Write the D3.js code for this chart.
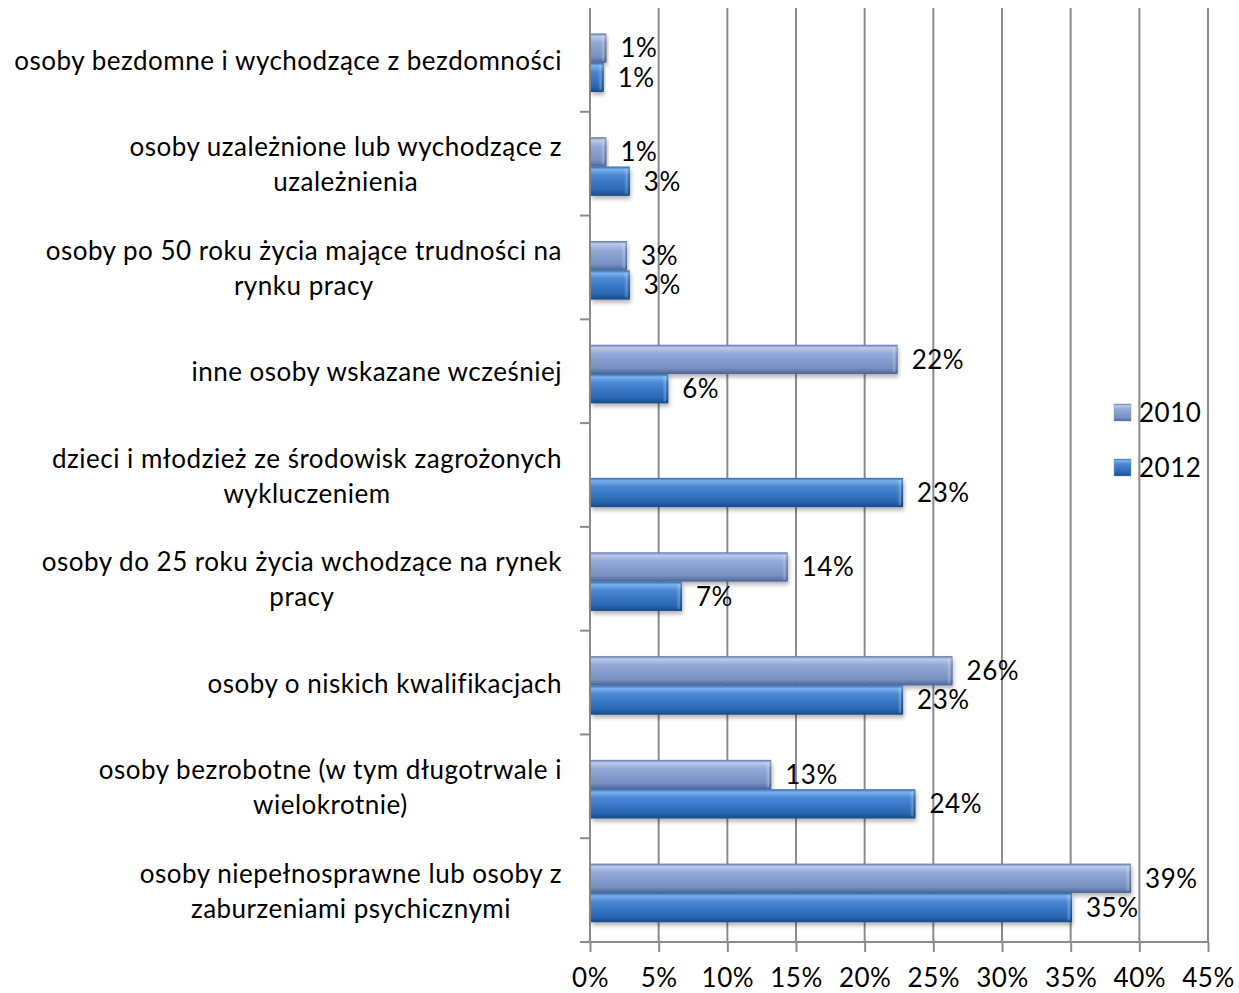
<!DOCTYPE html>
<html>
<head>
<meta charset="utf-8">
<script src="https://cdn.jsdelivr.net/npm/d3@7"></script>
<style>
  body { margin: 0; background: #fff; }
  svg { display: block; font-family: Lato, "Noto Sans", sans-serif; }
</style>
</head>
<body>
<div id="chart"></div>
<script>
const categories = [
  "osoby bezdomne i wychodzące z bezdomności",
  "osoby uzależnione lub wychodzące z|uzależnienia",
  "osoby po 50 roku życia mające trudności na|rynku pracy",
  "inne osoby wskazane wcześniej",
  "dzieci i młodzież ze środowisk zagrożonych|wykluczeniem",
  "osoby do 25 roku życia wchodzące na rynek|pracy",
  "osoby o niskich kwalifikacjach",
  "osoby bezrobotne (w tym długotrwale i|wielokrotnie)",
  "osoby niepełnosprawne lub osoby z|zaburzeniami psychicznymi"
]
const series = ["2010", "2012"]
const values2010 = [1.2, 1.2, 2.7, 22.4, null, 14.4, 26.4, 13.2, 39.4]
const values2012 = [1.0, 2.9, 2.9, 5.7, 22.8, 6.7, 22.8, 23.7, 35.1]
const xTicks = [0, 5, 10, 15, 20, 25, 30, 35, 40, 45]

const chartWidth = 1239
const chartHeight = 993
const plotLeft = 590, plotRight = 1208, plotTop = 8, plotBottom = 942

const svg = d3.select("#chart").append("svg")
  .attr("width", chartWidth)
  .attr("height", chartHeight)

// gradients for the bevelled bars
const defs = svg.append("defs")
const gradStops = {
  "2010": [["0%", "#5d74a6"], ["10%", "#bccbea"], ["30%", "#94a9d7"], ["80%", "#7690c2"], ["100%", "#4c6494"]],
  "2012": [["0%", "#2c66ae"], ["10%", "#7ab2ee"], ["30%", "#4987d4"], ["80%", "#2a67b3"], ["100%", "#1a4a88"]]
}
series.forEach(s => {
  const g = defs.append("linearGradient").attr("id", "grad" + s)
    .attr("x1", 0).attr("y1", 0).attr("x2", 0).attr("y2", 1)
  gradStops[s].forEach(st => g.append("stop").attr("offset", st[0]).attr("stop-color", st[1]))
})
// right end bevel
const endGrad = defs.append("linearGradient").attr("id", "endBevel")
  .attr("x1", 0).attr("y1", 0).attr("x2", 1).attr("y2", 0)
endGrad.append("stop").attr("offset", "0%").attr("stop-color", "#fff").attr("stop-opacity", 0)
endGrad.append("stop").attr("offset", "55%").attr("stop-color", "#fff").attr("stop-opacity", 0.25)
endGrad.append("stop").attr("offset", "80%").attr("stop-color", "#000").attr("stop-opacity", 0.1)
endGrad.append("stop").attr("offset", "100%").attr("stop-color", "#000").attr("stop-opacity", 0.35)

const shadow = defs.append("filter").attr("id", "shadow").attr("height", "160%")
shadow.append("feDropShadow").attr("dx", 1).attr("dy", 3).attr("stdDeviation", 2)
  .attr("flood-color", "#000").attr("flood-opacity", 0.3)

// scales
const x = d3.scaleLinear().domain([0, 45]).range([plotLeft, plotRight])
const y0 = d3.scaleBand().domain(categories).range([plotTop, plotBottom])
const bw = y0.bandwidth()
const y1 = d3.scaleBand().domain(series).range([bw * 0.245, bw * 0.81])

// gridlines
svg.append("g").selectAll("line").data(xTicks.slice(1)).enter()
  .append("line")
  .attr("x1", d => x(d)).attr("x2", d => x(d))
  .attr("y1", plotTop).attr("y2", plotBottom)
  .attr("stroke", "#8c8c8c").attr("stroke-width", 2)

// bottom axis
const xAxis = svg.append("g")
  .attr("transform", "translate(0," + plotBottom + ")")
  .call(d3.axisBottom(x).tickValues(xTicks).tickSize(10).tickFormat(d => d + "%"))
xAxis.select(".domain").attr("d", "M580,0H" + plotRight).attr("stroke", "#8c8c8c").attr("stroke-width", 2)
xAxis.selectAll(".tick line").attr("stroke", "#8c8c8c").attr("stroke-width", 2)
xAxis.selectAll(".tick text").attr("font-size", 26).attr("fill", "#000").attr("dy", 0).attr("y", 45)
  .attr("letter-spacing", 0.5)
  .attr("font-family", "Lato, sans-serif")

// left axis line + category ticks
svg.append("line")
  .attr("x1", plotLeft).attr("x2", plotLeft)
  .attr("y1", plotTop).attr("y2", plotBottom)
  .attr("stroke", "#8c8c8c").attr("stroke-width", 2)
svg.append("g").selectAll("line").data(categories.slice(1)).enter()
  .append("line")
  .attr("x1", plotLeft - 10).attr("x2", plotLeft)
  .attr("y1", d => y0(d)).attr("y2", d => y0(d))
  .attr("stroke", "#8c8c8c").attr("stroke-width", 2)

// category labels
const catLabels = svg.append("g").selectAll("text").data(categories).enter()
  .append("text")
  .attr("text-anchor", "middle")
  .attr("font-size", 26)
  .attr("letter-spacing", 0.5)
  .attr("fill", "#000")
catLabels.each(function (d) {
  const lines = d.split("|")
  const cy = y0(d) + bw / 2 + 1
  const el = d3.select(this)
  lines.forEach((ln, i) => {
    el.append("tspan")
      .attr("y", cy + (i - (lines.length - 1) / 2) * 35)
      .attr("dy", "0.35em")
      .text(ln)
  })
})
// centre each line block on the widest line, right aligned at 562
catLabels.each(function () {
  const el = d3.select(this)
  let maxW = 0
  el.selectAll("tspan").each(function () { maxW = Math.max(maxW, this.getComputedTextLength()) })
  el.selectAll("tspan").attr("x", 562 - maxW / 2)
})

// bars
const rows = categories.map((c, i) => ({ cat: c, vals: [
  { s: "2010", v: values2010[i] },
  { s: "2012", v: values2012[i] }
].filter(d => d.v != null) }))

const groups = svg.append("g").selectAll("g").data(rows).enter()
  .append("g")
  .attr("transform", d => "translate(0," + y0(d.cat) + ")")

groups.selectAll("rect.bar").data(d => d.vals).enter()
  .append("rect")
  .attr("class", "bar")
  .attr("x", x(0) + 1)
  .attr("y", d => y1(d.s))
  .attr("width", d => x(d.v) - x(0) - 1)
  .attr("height", y1.bandwidth())
  .attr("fill", d => "url(#grad" + d.s + ")")
  .attr("filter", "url(#shadow)")

groups.selectAll("rect.cap").data(d => d.vals).enter()
  .append("rect")
  .attr("class", "cap")
  .attr("x", d => Math.max(x(0) + 1, x(d.v) - 6))
  .attr("y", d => y1(d.s) + 2)
  .attr("width", d => Math.min(6, x(d.v) - x(0) - 1))
  .attr("height", y1.bandwidth() - 4)
  .attr("fill", "url(#endBevel)")

groups.selectAll("text").data(d => d.vals).enter()
  .append("text")
  .attr("x", d => x(d.v) + 14)
  .attr("y", d => y1(d.s) + y1.bandwidth() / 2)
  .attr("dy", "0.36em")
  .attr("font-size", 26)
  .attr("letter-spacing", 0.5)
  .attr("fill", "#000")
  .text(d => d3.format(".0%")(d.v / 100))

// legend
const legend = svg.append("g").selectAll("g").data(series).enter()
  .append("g")
  .attr("transform", (d, i) => "translate(1114," + (404 + i * 55) + ")")
legend.append("rect")
  .attr("width", 17).attr("height", 17)
  .attr("fill", d => "url(#grad" + d + ")")
  .attr("stroke", "#8aa0c8").attr("stroke-width", 0.5)
legend.append("text")
  .attr("x", 25).attr("y", 9).attr("dy", "0.36em")
  .attr("font-size", 26).attr("letter-spacing", 0.5).attr("fill", "#000")
  .text(d => d)
</script>
</body>
</html>
